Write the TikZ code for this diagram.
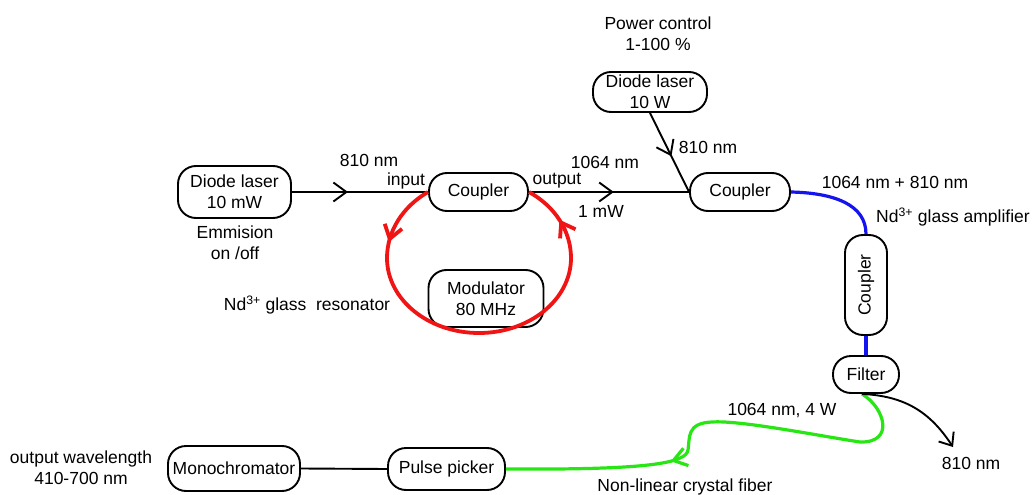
\documentclass[tikz,border=0pt]{standalone}
\usepackage{fontspec}
\usepackage{graphicx}
\setmainfont{Liberation Sans}
\usetikzlibrary{arrows.meta,decorations.markings}
\definecolor{grn}{RGB}{40,230,20}
\definecolor{rd}{RGB}{240,20,20}
\definecolor{bl}{RGB}{20,20,240}
\begin{document}
\begin{tikzpicture}[x=1pt,y=-1pt,
  every node/.style={font=\fontsize{17.5}{21}\selectfont, inner sep=0pt},
  box/.style 2 args={draw, line width=1.9pt, rounded corners=18pt, align=center, minimum width=#1, minimum height=#2},
  ln/.style={line width=1.9pt},
  midarrow/.style={postaction={decorate,decoration={markings,mark=at position #1 with {\draw[line width=1.9pt] (-13pt,-9.5pt) -- (0pt,0pt) -- (-13pt,9.5pt);}}}}
]
\useasboundingbox (0,0) rectangle (1034,495);

% boxes
\node[box={113pt}{52pt}] (dl1) at (234.5,192) {Diode laser\\10 mW};
\node[box={99pt}{38pt}] (c1) at (478.5,192) {Coupler};
\node[box={115pt}{57pt}] (mod) at (486,298.5) {Modulator\\80 MHz};
\node[box={114pt}{40pt}] (dl2) at (650,92) {Diode laser\\10 W};
\node[box={100pt}{38pt}] (c2) at (740,192) {Coupler};
\node[box={42pt}{100pt}] (c3) at (866,285) {\rotatebox{90}{Coupler}};
\node[box={66pt}{37pt}] (filt) at (866,374.5) {Filter};
\node[box={132pt}{45pt}] (mono) at (234,468.5) {Monochromator};
\node[box={117pt}{42pt}] (pp) at (446.5,469) {Pulse picker};

% labels
\node[align=center] (emm) at (235,243) {Emmision\\on /off};
\node[align=center] (pc) at (658,34) {Power control\\1-100 \%};
\node (l810a) at (369,160) {810 nm};
\node (lin) at (406,181) {input};
\node (lout) at (557,181) {output};
\node (l1064) at (605,162) {1064 nm};
\node (l1mw) at (601,211) {1 mW};
\node (l810b) at (708,147) {810 nm};
\node (lsum) at (895,182) {1064 nm + 810 nm};
\node (lamp) at (953,217) {Nd\textsuperscript{3+} glass amplifier};
\node (lres) at (307,305) {Nd\textsuperscript{3+} glass\ \ resonator};
\node (l4w) at (782,411) {1064 nm, 4 W};
\node (l810c) at (971,463) {810 nm};
\node (lnl) at (685,487) {Non-linear crystal fiber};
\node[align=center] (lout2) at (81,468) {output wavelength\\410-700 nm};

% connectors
\draw[ln, midarrow=0.4] (dl1.east) -- (c1.west);
\draw[ln, midarrow=0.52] (c1.east) -- (c2.west);
\draw[ln, midarrow=0.53] (dl2.south) -- (c2.west);

\draw[rd, line width=3.8pt, postaction={decorate,decoration={markings,
   mark=at position 62pt with {\draw[rd, line width=3.8pt] (-13pt,-9pt) -- (0pt,0pt) -- (-13pt,9pt);},
   mark=at position -45pt with {\draw[rd, line width=3.8pt] (-13pt,-9pt) -- (0pt,0pt) -- (-13pt,9pt);}}}]
  (c1.west) .. controls (402,207) and (387,232) .. (387,258)
  .. controls (387,299.4) and (428.2,333) .. (479,333)
  .. controls (529.8,333) and (571,299.4) .. (571,258)
  .. controls (571,232) and (556,207) .. (c1.east);

\draw[bl, line width=3.2pt] (c2.east) .. controls (835,193) and (866,205) .. (c3.north);
\draw[bl, line width=3.2pt] (c3.south) -- (filt.north);

\draw[grn, line width=3.2pt, postaction={decorate,decoration={markings,
   mark=at position -168pt with {\draw[grn, line width=3.2pt] (-13pt,-9pt) -- (0pt,0pt) -- (-13pt,9pt);}}}]
  ([xshift=-4pt]filt.south) .. controls (885,408) and (895,443) .. (860,442)
  .. controls (820,436) and (740,420) .. (712,422)
  .. controls (686,423) and (690,438) .. (688,450)
  .. controls (686,463) and (650,470) .. (pp.east);

\coordinate (e810) at (953,447);
\draw[ln, -{Straight Barb[length=11pt,width=18pt]}] ([xshift=-4pt]filt.south) .. controls (905,396) and (930,412) .. (e810);

\draw[ln] (mono.east) -- (pp.west);
\end{tikzpicture}
\end{document}
